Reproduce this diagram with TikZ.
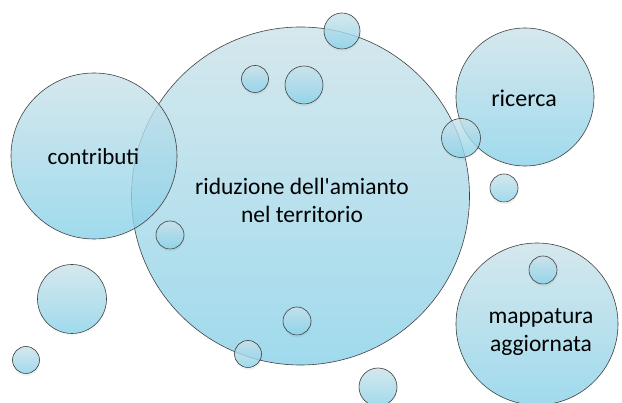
\documentclass[tikz,border=0pt]{standalone}
\usepackage{fontspec}
\setmainfont{Carlito}
\usetikzlibrary{shadows}
\definecolor{bubtop}{RGB}{203,226,233}
\definecolor{bubbot}{RGB}{136,209,233}
\begin{document}
\begin{tikzpicture}[x=1pt,y=-1pt,
  bubble/.style={circle, inner sep=0pt, minimum size=2*#1, draw=black!75, line width=0.6pt,
    top color=bubtop, bottom color=bubbot, fill opacity=0.8, text opacity=1,
    circular drop shadow={fill=none, draw=black!70, line width=1.6pt, opacity=0.12,
      shadow xshift=0pt, shadow yshift=-1.8pt, shadow scale=1}},
  bubble/.default=20pt,
  label/.style={inner sep=0pt, align=center, text=black, font=\fontsize{#1}{28}\selectfont},
  label/.default=22]
\useasboundingbox (0,0) rectangle (622,403);
\node[bubble=169pt] (big) at (300.5,196) {};
\node[bubble=83pt] (contributi) at (94,156) {};
\node[bubble=69pt] (ricerca) at (525,97) {};
\node[bubble=81pt] (mappatura) at (537,324) {};
\node[bubble=18pt] (s1) at (342,31) {};
\node[bubble=13.5pt] (s2) at (255,79) {};
\node[bubble=19pt] (s3) at (304,85) {};
\node[bubble=19.5pt] (s4) at (461,138) {};
\node[bubble=14pt] (s5) at (504,188) {};
\node[bubble=14pt] (s6) at (170,235) {};
\node[bubble=34.5pt] (s7) at (72,299) {};
\node[bubble=13.5pt] (s8) at (26,360) {};
\node[bubble=14pt] (s9) at (297,321) {};
\node[bubble=13.5pt] (s10) at (248,354) {};
\node[bubble=19pt] (s11) at (378,387) {};
\node[bubble=14pt] (s12) at (543,270) {};
\node[label=23.5] (bigtext) at (302,200) {riduzione dell\textquotesingle amianto\\nel territorio};
\node[label=23] (contributitext) at (93.5,157) {contributi};
\node[label=24] (ricercatext) at (524,98) {ricerca};
\node[label=23.5] (mappaturatext) at (541,332) {mappatura\\aggiornata};
\end{tikzpicture}
\end{document}
